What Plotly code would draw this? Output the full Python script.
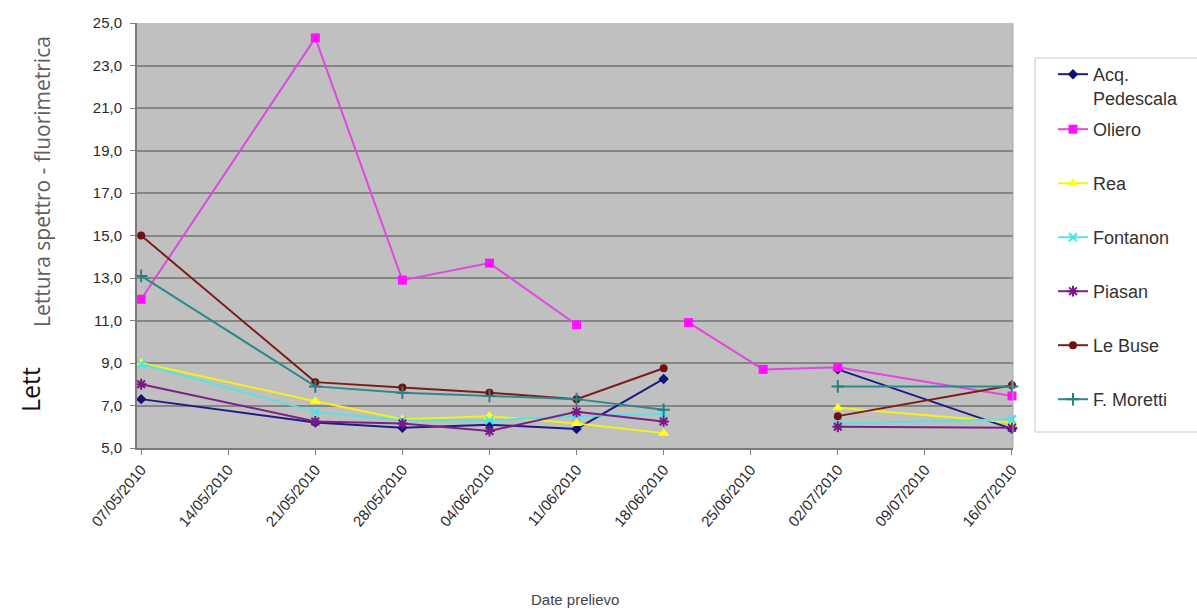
import plotly.graph_objects as go

dates = ["2010-05-07", "2010-05-21", "2010-05-28", "2010-06-04", "2010-06-11",
         "2010-06-18", "2010-06-20", "2010-06-26", "2010-07-02", "2010-07-16"]

acq_pedescala = [7.3, 6.2, 5.95, 6.1, 5.9, 8.25, None, None, 8.7, 5.9]
oliero        = [12.0, 24.3, 12.9, 13.7, 10.8, None, 10.9, 8.7, 8.8, 7.45]
rea           = [9.0, 7.2, 6.35, 6.5, 6.15, 5.7, None, None, 6.9, 6.2]
fontanon      = [8.95, 6.7, 6.3, 6.3, 6.5, 6.6, None, None, 6.15, 6.35]
piasan        = [8.0, 6.25, 6.15, 5.8, 6.7, 6.25, None, None, 6.0, 5.95]
le_buse       = [15.0, 8.1, 7.85, 7.6, 7.3, 8.75, None, None, 6.5, 7.95]
f_moretti     = [13.1, 7.9, 7.6, 7.45, 7.3, 6.8, None, None, 7.9, 7.9]

series_names = ["Acq.<br>Pedescala", "Oliero", "Rea", "Fontanon", "Piasan", "Le Buse", "F. Moretti"]
series_values = [acq_pedescala, oliero, rea, fontanon, piasan, le_buse, f_moretti]
line_colors = ["#1c1c84", "#e048e0", "#f2f21e", "#5ee0e0", "#7d2088", "#7c1c1c", "#2e8a8a"]
marker_colors = ["#10107a", "#ff10ff", "#ffff10", "#40e8e8", "#781a86", "#701010", "#2a8080"]
symbols = ["diamond", "square", "triangle-up", "x-thin-open", "asterisk-open", "circle", "cross-thin-open"]
sizes = [8, 9, 10, 8, 9, 8, 9]

fig = go.Figure()
for i, (name, vals, lc, mc, sym, sz) in enumerate(zip(series_names, series_values, line_colors, marker_colors, symbols, sizes)):
    fig.add_trace(go.Scatter(
        x=dates, y=vals, name=name, mode="lines+markers",
        line=dict(color=lc, width=2),
        marker=dict(symbol=sym, size=sz, color=mc, line=dict(color=mc, width=2 if "open" in sym else 0)),
        connectgaps=False, cliponaxis=False, legendgroup=name,
        legend="legend" if i == 0 else "legend2",
    ))

L, R, T, B = 137, 1013, 23, 448
W, H = 1197, 611
pw, ph = R - L, B - T

def px(x):
    return (x - L) / pw

def py(y):
    return (B - y) / ph

legend_font = dict(size=18, color="#333333", family="Liberation Sans, Arial, sans-serif")

fig.update_layout(
    width=W, height=H,
    margin=dict(l=L, r=W - R, t=T, b=H - B),
    paper_bgcolor="white", plot_bgcolor="#c0c0c0",
    separators=",.",
    font=dict(family="Liberation Sans, Arial, sans-serif", color="#333333", size=13),
    showlegend=True,
    legend=dict(
        x=px(1053), y=py(56), xanchor="left", yanchor="top",
        bgcolor="rgba(0,0,0,0)", borderwidth=0, font=legend_font,
        valign="top", itemwidth=30,
    ),
    legend2=dict(
        x=px(1053), y=py(111), xanchor="left", yanchor="top",
        bgcolor="rgba(0,0,0,0)", borderwidth=0, font=legend_font,
        tracegroupgap=27.6, itemwidth=30,
    ),
    xaxis=dict(
        type="date", range=["2010-05-06 16:00", "2010-07-16 02:00"],
        tick0="2010-05-07", dtick=7 * 86400000, tickformat="%d/%m/%Y",
        tickangle=-50, ticks="outside", ticklen=5, tickcolor="#808080",
        showgrid=False, showline=True, linecolor="#7a7a7a", linewidth=2,
        zeroline=False, tickfont=dict(size=15, color="#2a2a2a"),
    ),
    yaxis=dict(
        range=[5, 25], tick0=5, dtick=2, tickformat=".1f",
        ticks="outside", ticklen=5, tickcolor="#808080",
        showgrid=True, gridcolor="#858585", gridwidth=1.5,
        showline=True, linecolor="#7a7a7a", linewidth=2,
        zeroline=False, tickfont=dict(size=15, color="#2a2a2a"),
        ticklabelstandoff=5,
    ),
    shapes=[
        dict(type="rect", xref="paper", yref="paper", x0=px(1035), x1=px(1205), y0=py(432), y1=py(58),
             line=dict(color="#c8c8c8", width=1), fillcolor="white", layer="below"),
        dict(type="line", xref="paper", yref="paper", x0=1, x1=1, y0=0, y1=1,
             line=dict(color="#a8a8a8", width=1)),
    ],
    annotations=[
        dict(text="Date prelievo", xref="paper", yref="paper", x=0.5, y=py(599),
             showarrow=False, font=dict(size=15, color="#444444"), xanchor="center", yanchor="middle"),
        dict(text="Lettura spettro - fluorimetrica", xref="paper", yref="paper", x=px(42), y=py(182),
             textangle=-90, showarrow=False, font=dict(family="Open Sans, Noto Sans, sans-serif", size=21, color="#606060"),
             xanchor="center", yanchor="middle"),
        dict(text="Lett", xref="paper", yref="paper", x=px(30), y=py(390),
             textangle=-90, showarrow=False, font=dict(family="Open Sans, Noto Sans, sans-serif", size=25, color="#111111"),
             xanchor="center", yanchor="middle"),
    ],
)

fig.write_html("out.html", config={"displayModeBar": False},
               post_script="document.body.style.margin='0';document.body.style.overflow='hidden';")
